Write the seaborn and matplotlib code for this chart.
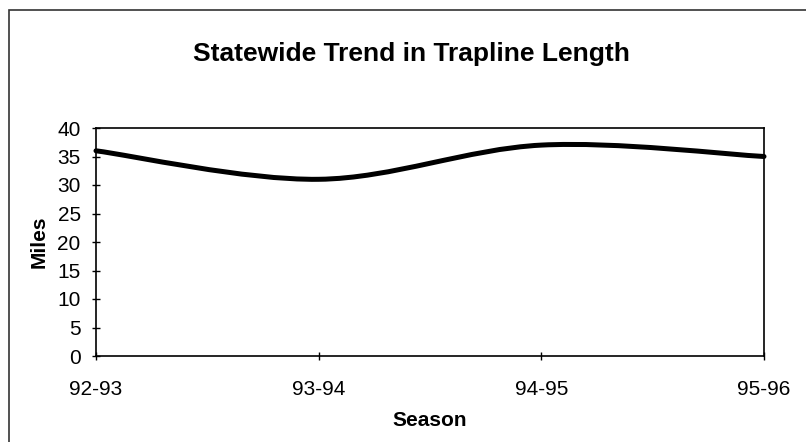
import numpy as np
import matplotlib
matplotlib.use("Agg")
import matplotlib.pyplot as plt
from matplotlib.path import Path
from matplotlib.patches import PathPatch, Rectangle
import seaborn as sns

seasons = ["92-93", "93-94", "94-95", "95-96"]
miles = [36, 31, 37, 35]
y_ticks = [0, 5, 10, 15, 20, 25, 30, 35, 40]

sns.set_style("white")
plt.rcParams['font.family'] = ['Liberation Sans', 'DejaVu Sans']
plt.rcParams['text.color'] = 'black'
plt.rcParams['axes.labelcolor'] = 'black'
plt.rcParams['xtick.color'] = 'black'
plt.rcParams['ytick.color'] = 'black'

fig = plt.figure(figsize=(8.06, 4.42), dpi=100)
ax = fig.add_axes([96 / 806, 1 - 356 / 442, 668 / 806, 228 / 442])

# Excel-style smoothed line: cubic Bezier through the data points
x = np.arange(len(seasons), dtype=float)
y = np.array(miles, dtype=float)
pts = np.column_stack([x, y])
ext = np.vstack([pts[0], pts, pts[-1]])
verts = [tuple(pts[0])]
codes = [Path.MOVETO]
for i in range(len(pts) - 1):
    p0, p1, p2, p3 = ext[i], ext[i + 1], ext[i + 2], ext[i + 3]
    c1 = p1 + (p2 - p0) / 6
    c2 = p2 - (p3 - p1) / 6
    verts += [tuple(c1), tuple(c2), tuple(p2)]
    codes += [Path.CURVE4] * 3
ax.add_patch(PathPatch(Path(verts, codes), facecolor="none", edgecolor="black",
                       lw=3.6, capstyle="round", joinstyle="round", clip_on=False))

ax.set_xlim(0, len(seasons) - 1)
ax.set_ylim(0, 40)
ax.set_xticks(x)
ax.set_xticklabels(seasons, fontsize=15)
ax.set_yticks(y_ticks)
ax.set_yticklabels([str(t) for t in y_ticks], fontsize=15)
ax.tick_params(axis="y", left=True, direction="inout", length=6, width=1, pad=8)
ax.tick_params(axis="x", bottom=True, direction="inout", length=6, width=1, pad=14)
for s in ax.spines.values():
    s.set_color("black")
    s.set_linewidth(1.2)

ax.set_xlabel("Season", fontsize=15, fontweight="bold", labelpad=9)
ax.set_ylabel("Miles", fontsize=15, fontweight="bold", labelpad=6)
fig.text(411.5 / 806, 1 - 54 / 442, "Statewide Trend in Trapline Length", ha="center", va="center",
         fontsize=19, fontweight="bold")

# outer chart border
fig.patches.append(Rectangle((9 / 806, -0.01), 1.0, 1 - 10 / 442 + 0.01, transform=fig.transFigure,
                             fill=False, edgecolor="#333333", lw=1.2))

fig.savefig("out.png", dpi=100)
